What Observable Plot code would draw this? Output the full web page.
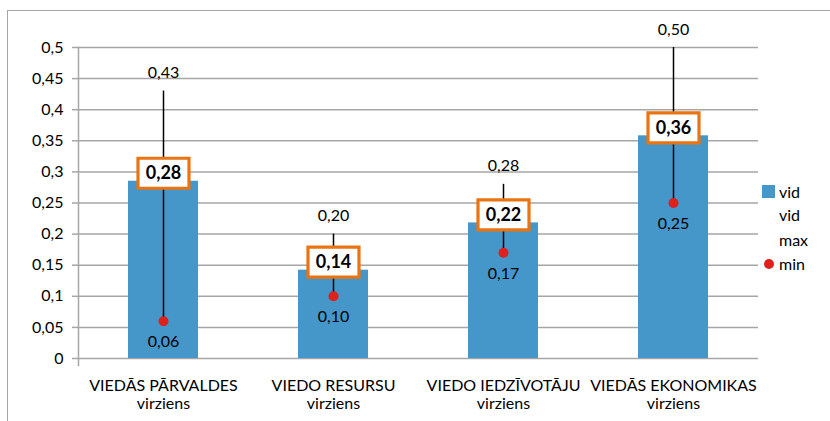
<!DOCTYPE html>
<html>
<head>
<meta charset="utf-8">
<script src="https://cdn.jsdelivr.net/npm/d3@7"></script>
<script src="https://cdn.jsdelivr.net/npm/@observablehq/plot@0.6"></script>
<style>
  body { margin: 0; background: #fff; font-family: Lato, "Open Sans", sans-serif; }
  #wrap { position: relative; width: 830px; height: 421px; overflow: hidden; }
  #border { position: absolute; left: 7px; top: 10px; width: 900px; height: 500px;
            border-left: 1.5px solid #a6a6a6; border-top: 1.5px solid #a6a6a6; }
  #chart { position: absolute; left: 0; top: 0; }
  .leg { position: absolute; left: 762px; top: 0; font-size: 16px; color: #000; }
  .leg div { position: absolute; white-space: nowrap; }
</style>
</head>
<body>
<div id="wrap">
  <div id="border"></div>
  <div id="chart"></div>
  <div class="leg" id="legend"></div>
</div>
<script>
const categories = [
  "VIEDĀS PĀRVALDES\nvirziens",
  "VIEDO RESURSU\nvirziens",
  "VIEDO IEDZĪVOTĀJU\nvirziens",
  "VIEDĀS EKONOMIKAS\nvirziens"
];
const vid = [0.285, 0.142, 0.218, 0.358];
const vidLabels = ["0,28", "0,14", "0,22", "0,36"];
const maxVals = [0.43, 0.20, 0.28, 0.50];
const minVals = [0.06, 0.10, 0.17, 0.25];
const yTicks = [0, 0.05, 0.1, 0.15, 0.2, 0.25, 0.3, 0.35, 0.4, 0.45, 0.5];
const legendItems = ["vid", "vid", "max", "min"];

const data = categories.map((c, i) => ({
  cat: c, vid: vid[i], vidLabel: vidLabels[i], max: maxVals[i], min: minVals[i]
}));
const fmt = v => v.toFixed(2).replace(".", ",");
const tickFmt = v => String(+v.toFixed(2)).replace(".", ",");

const BLUE = "#4596c9", RED = "#e0201b", ORANGE = "#ea7411", GRID = "#a6a6a6";
const FONT = "Lato, 'Open Sans', sans-serif";
const boxSymbol = { draw(ctx) { ctx.rect(-25.5, -15, 51, 30); } };

const chart = Plot.plot({
  width: 830,
  height: 421,
  marginLeft: 78,
  marginRight: 72,
  marginTop: 47,
  marginBottom: 63,
  style: { fontFamily: FONT, background: "transparent", color: "#000" },
  x: { domain: categories, paddingInner: 0.588, paddingOuter: 0.294, label: null },
  y: { domain: [0, 0.5], label: null },
  marks: [
    Plot.gridY(yTicks, { stroke: GRID, strokeOpacity: 1, strokeWidth: 1.5 }),
    Plot.axisY(yTicks, { tickSize: 6, tickPadding: 9, tickFormat: tickFmt, fontSize: 16,
                         stroke: GRID, strokeWidth: 1.5, label: null }),
    Plot.frame({ anchor: "left", stroke: GRID, strokeWidth: 1.5, insetBottom: -7 }),
    Plot.axisX({ tickSize: 0, tickPadding: 19, fontSize: 16, lineHeight: 1.15, label: null }),
    Plot.barY(data, { x: "cat", y: "vid", fill: BLUE }),
    Plot.ruleX(data, { x: "cat", y1: "min", y2: "max", stroke: "#000", strokeWidth: 1.5 }),
    Plot.dot(data, { x: "cat", y: "min", r: 5, fill: RED }),
    Plot.text(data, { x: "cat", y: "max", text: d => fmt(d.max), dy: -18, fontSize: 16, fill: "#000" }),
    Plot.text(data, { x: "cat", y: "min", text: d => fmt(d.min), dy: 21, fontSize: 16, fill: "#000" }),
    Plot.dot(data, { x: "cat", y: "vid", symbol: boxSymbol, dy: -8, fill: "#fff", stroke: ORANGE, strokeWidth: 3.2 }),
    Plot.text(data, { x: "cat", y: "vid", text: "vidLabel", dy: -8, fontSize: 18, fontWeight: "bold", fill: "#000" })
  ]
});
document.getElementById("chart").appendChild(chart);

const leg = document.getElementById("legend");
const rowsY = [192, 215, 240, 264];
legendItems.forEach((t, i) => {
  const y = rowsY[i];
  if (i === 0) {
    const s = document.createElement("div");
    Object.assign(s.style, { left: "0px", top: (y - 7) + "px", width: "13px", height: "13px", background: BLUE });
    leg.appendChild(s);
  }
  if (i === 3) {
    const s = document.createElement("div");
    Object.assign(s.style, { left: "2px", top: (y - 5) + "px", width: "10px", height: "10px", borderRadius: "50%", background: RED });
    leg.appendChild(s);
  }
  const d = document.createElement("div");
  d.textContent = t;
  Object.assign(d.style, { left: "17px", top: (y - 10) + "px", lineHeight: "20px" });
  leg.appendChild(d);
});
</script>
</body>
</html>
